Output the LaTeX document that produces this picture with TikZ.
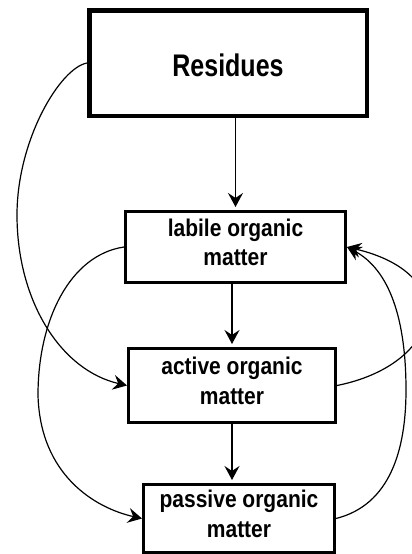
\documentclass[tikz,border=0pt]{standalone}
\usepackage{fontspec}
\usepackage{graphicx}
\setmainfont{Liberation Sans}
\usetikzlibrary{arrows.meta}
\newcommand{\tallA}[1]{\scalebox{1}[1.25]{#1}}
\newcommand{\tallB}[1]{\scalebox{1}[1.15]{#1}}
\begin{document}
\begin{tikzpicture}[x=1pt,y=-1pt,
  bigbox/.style={draw, line width=4.5pt, inner sep=0pt, text height=26pt, text depth=0pt, font=\fontsize{25}{30}\selectfont\bfseries},
  poolbox/.style={draw, line width=3pt, inner sep=0pt, align=center, text depth=10pt, font=\fontsize{21}{29.5}\selectfont\bfseries},
  flow/.style={line width=1.5pt, -{Stealth[length=14pt,width=15pt,inset=5pt]}, shorten >=3pt},
  loop/.style={line width=1.2pt, -{Stealth[length=14pt,width=15pt,inset=5pt]}}]
\useasboundingbox (0,0) rectangle (412,554);
\clip (0,0) rectangle (412,554);
\node[bigbox, minimum width=277.5pt, minimum height=105.5pt] (res) at (228,63) {\tallA{Residues}};
\node[poolbox, minimum width=220pt, minimum height=71pt] (lab) at (235.5,247) {\tallB{labile organic}\\\tallB{matter}};
\node[poolbox, minimum width=207pt, minimum height=74pt] (act) at (232,385.5) {\tallB{active organic}\\\tallB{matter}};
\node[poolbox, minimum width=191pt, minimum height=68pt] (pas) at (239,518.5) {\tallB{passive organic}\\\tallB{matter}};
% vertical flows
\draw[flow] (lab.north |- res.south) -- (lab.north);
\draw[flow] (lab.south -| act.north) -- (act.north);
\draw[flow] (act.south) -- (act.south |- pas.north);
% left loops
\draw[loop] (res.west) .. controls (60,68) and (17,140) .. (17,215)
  .. controls (17,300) and (60,370) .. (act.west);
\draw[loop] (lab.west) .. controls (70,255) and (38,320) .. (38,395)
  .. controls (40,475) and (95,508) .. (pas.west);
% right loops
\draw[loop] (pas.east) .. controls (390,505) and (406,450) .. (406,390)
  .. controls (406,320) and (390,270) .. (lab.east);
\draw[loop] (act.east) .. controls (440,365) and (465,275) .. (lab.east);
\end{tikzpicture}
\end{document}
